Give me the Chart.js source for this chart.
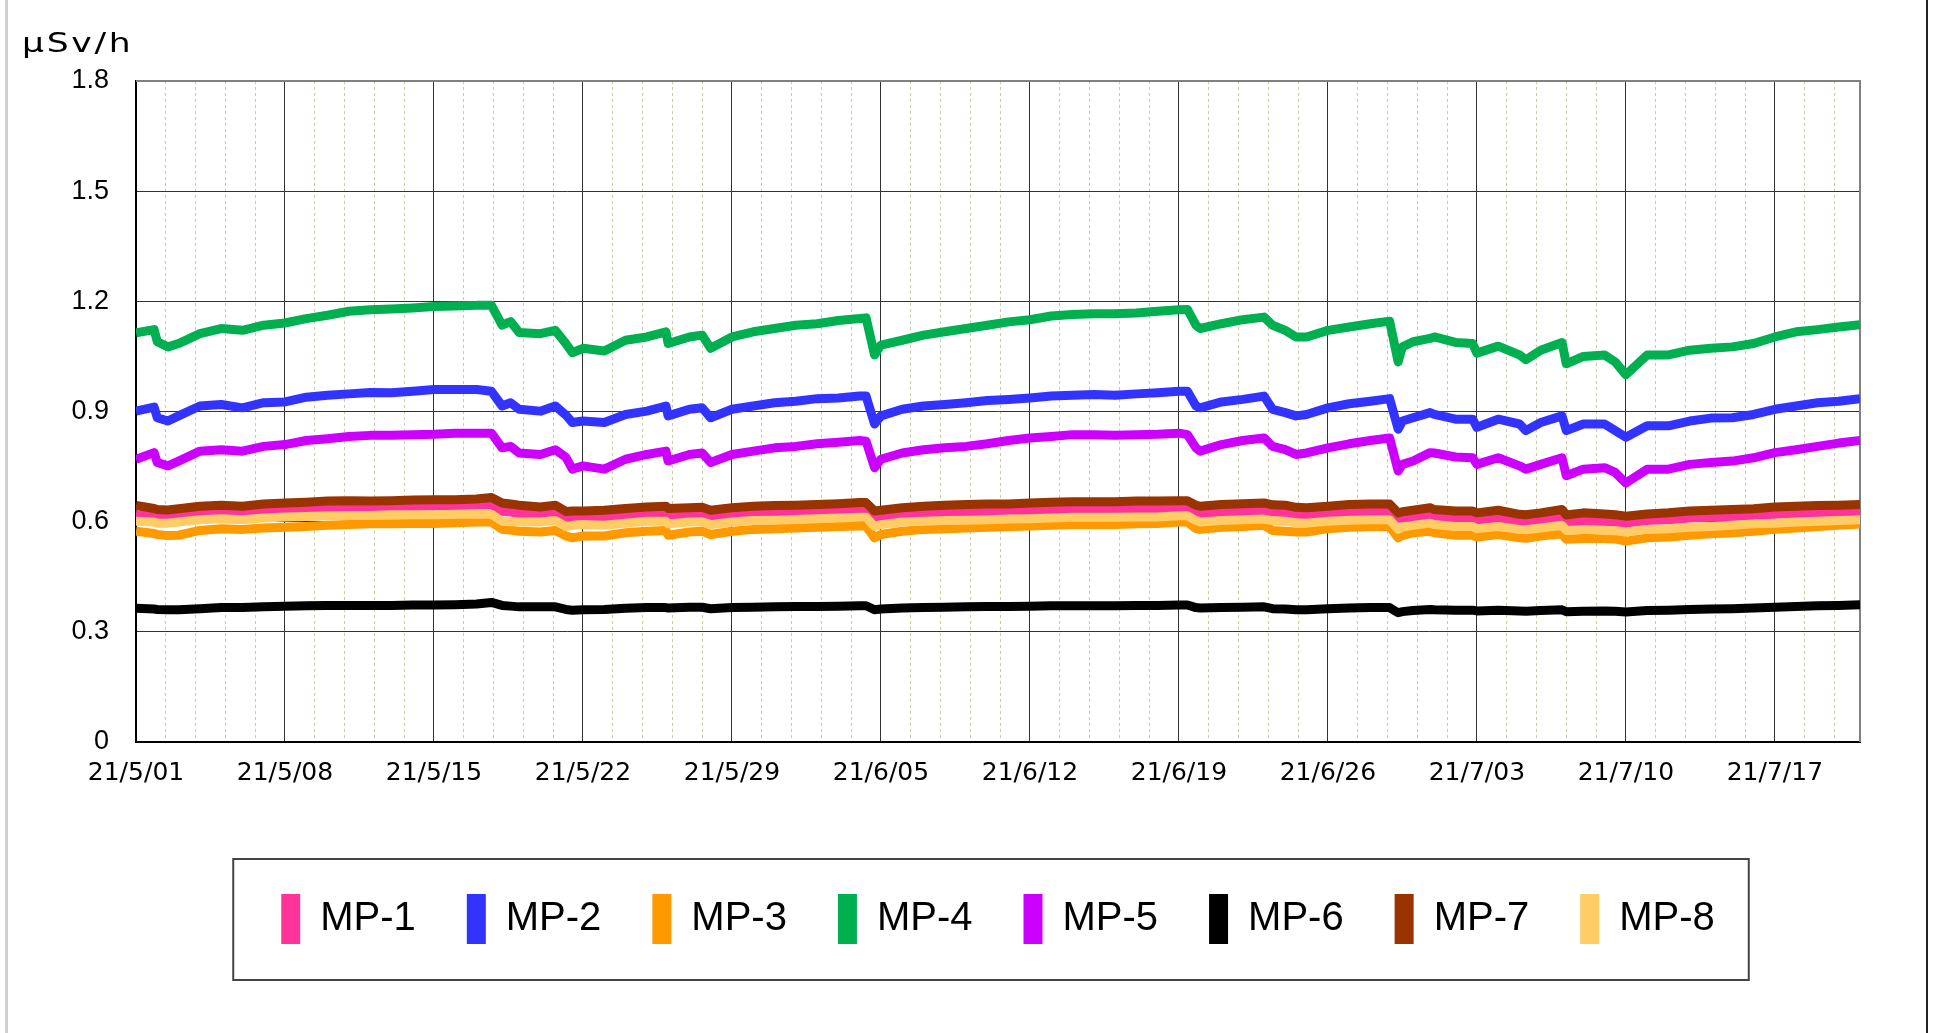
<!DOCTYPE html>
<html>
<head>
<meta charset="utf-8">
<script src="https://cdn.jsdelivr.net/npm/chart.js@4.4.1/dist/chart.umd.min.js"></script>
<style>
html,body{margin:0;padding:0;background:#fff;}
#wrap{position:relative;width:1933px;height:1033px;overflow:hidden;}
canvas{position:absolute;left:0;top:0;}
#unit{position:absolute;left:22px;top:30px;font-family:"DejaVu Sans";font-size:26px;line-height:26px;letter-spacing:2px;color:#000;white-space:nowrap;transform:scaleX(1.33);transform-origin:0 0;}
#frame{position:absolute;left:5px;top:-2px;width:1923px;height:1037px;box-sizing:border-box;border-left:3px solid #cfcfcf;border-right:2px solid #222;pointer-events:none;}
</style>
</head>
<body>
<div id="wrap">
<canvas id="c" width="1933" height="1033"></canvas>
<div id="unit">μSv/h</div>
<div id="frame"></div>
</div>
<script>
// days since 2021-05-01
const dayOffsets = [
 0, 0.85, 1, 1.5, 2,
 3, 4, 5, 6, 7, 8, 9, 10, 11, 12, 13, 14, 15, 16,
 16.7, 17.2, 17.6, 18,
 19, 19.7, 20.2, 20.5, 21, 22, 23, 24,
 24.9, 25, 26, 26.6, 27,
 28, 29, 30, 31, 32, 33, 34,
 34.3, 34.7,
 35, 36, 37, 38, 39, 40, 41, 42, 43, 44, 45, 46, 47, 48, 49,
 49.4, 49.8, 50, 51, 52, 53,
 53.4, 54, 54.5, 55, 56, 57, 58,
 58.9, 59.3, 59.5, 60, 60.8, 61, 62,
 62.8, 63, 64, 65, 65.3, 66, 67,
 67.2, 68, 69, 69.5, 70,
 71, 72, 73, 74, 75, 76, 77, 78, 79, 80, 81
];

const weekLabels = ["21/5/01","21/5/08","21/5/15","21/5/22","21/5/29","21/6/05","21/6/12","21/6/19","21/6/26","21/7/03","21/7/10","21/7/17"];
const yTickLabels = ["0","0.3","0.6","0.9","1.2","1.5","1.8"];
const seriesNames = ["MP-1","MP-2","MP-3","MP-4","MP-5","MP-6","MP-7","MP-8"];
const seriesColors = ["#ff3399","#3333ff","#ff9900","#00b050","#cc00ff","#000000","#993300","#ffcc66"];

const mp1 = [
 0.619, 0.618, 0.614, 0.615, 0.619,
 0.625, 0.628, 0.625, 0.630, 0.632, 0.634, 0.637, 0.639, 0.639, 0.640, 0.641, 0.643, 0.644, 0.646,
 0.647, 0.628, 0.626, 0.623,
 0.623, 0.626, 0.610, 0.610, 0.610, 0.612, 0.617, 0.619,
 0.620, 0.614, 0.619, 0.620, 0.614,
 0.619, 0.622, 0.623, 0.625, 0.628, 0.630, 0.631,
 0.631, 0.610,
 0.612, 0.619, 0.622, 0.623, 0.625, 0.626, 0.628, 0.630, 0.631, 0.632, 0.633, 0.633, 0.635, 0.636, 0.637,
 0.637, 0.623, 0.620, 0.625, 0.628, 0.630,
 0.626, 0.623, 0.620, 0.619, 0.623, 0.626, 0.628,
 0.628, 0.609, 0.610, 0.612, 0.616, 0.614, 0.610,
 0.610, 0.605, 0.610, 0.601, 0.600, 0.605, 0.612,
 0.599, 0.601, 0.601, 0.599, 0.596,
 0.603, 0.605, 0.610, 0.612, 0.614, 0.617, 0.620, 0.623, 0.625, 0.626, 0.628
];
const mp2 = [
 0.901, 0.912, 0.883, 0.874, 0.888,
 0.915, 0.919, 0.910, 0.924, 0.926, 0.939, 0.944, 0.948, 0.952, 0.951, 0.955, 0.960, 0.960, 0.960,
 0.955, 0.915, 0.924, 0.906,
 0.901, 0.915, 0.890, 0.870, 0.874, 0.870, 0.892, 0.901,
 0.915, 0.888, 0.906, 0.910, 0.883,
 0.906, 0.915, 0.924, 0.928, 0.935, 0.937, 0.942,
 0.942, 0.866,
 0.888, 0.906, 0.915, 0.919, 0.924, 0.930, 0.933, 0.937, 0.942, 0.944, 0.946, 0.944, 0.948, 0.951, 0.955,
 0.955, 0.915, 0.910, 0.926, 0.933, 0.942,
 0.906, 0.897, 0.888, 0.892, 0.910, 0.921, 0.928,
 0.935, 0.852, 0.874, 0.883, 0.897, 0.892, 0.879,
 0.879, 0.857, 0.879, 0.866, 0.848, 0.870, 0.888,
 0.848, 0.866, 0.866, 0.848, 0.830,
 0.861, 0.861, 0.874, 0.882, 0.883, 0.892, 0.906, 0.915, 0.924, 0.928, 0.935
];
const mp3 = [
 0.574, 0.568, 0.565, 0.562, 0.563,
 0.576, 0.581, 0.579, 0.583, 0.585, 0.587, 0.590, 0.592, 0.594, 0.594, 0.595, 0.595, 0.597, 0.599,
 0.599, 0.579, 0.577, 0.574,
 0.572, 0.576, 0.561, 0.556, 0.561, 0.561, 0.570, 0.574,
 0.576, 0.563, 0.572, 0.574, 0.565,
 0.574, 0.579, 0.581, 0.583, 0.585, 0.587, 0.588,
 0.588, 0.556,
 0.565, 0.574, 0.579, 0.581, 0.583, 0.585, 0.587, 0.588, 0.590, 0.592, 0.592, 0.592, 0.594, 0.595, 0.599,
 0.599, 0.581, 0.579, 0.585, 0.587, 0.590,
 0.576, 0.574, 0.572, 0.572, 0.581, 0.585, 0.587,
 0.587, 0.556, 0.562, 0.570, 0.574, 0.570, 0.563,
 0.563, 0.558, 0.565, 0.556, 0.555, 0.561, 0.567,
 0.552, 0.554, 0.554, 0.553, 0.547,
 0.556, 0.558, 0.563, 0.567, 0.570, 0.574, 0.579, 0.583, 0.587, 0.590, 0.594
];
const mp4 = [
 1.114, 1.123, 1.090, 1.076, 1.085,
 1.112, 1.126, 1.121, 1.135, 1.141, 1.153, 1.162, 1.173, 1.177, 1.179, 1.182, 1.186, 1.187, 1.189,
 1.189, 1.135, 1.145, 1.115,
 1.112, 1.121, 1.085, 1.060, 1.072, 1.065, 1.094, 1.103,
 1.117, 1.085, 1.103, 1.108, 1.072,
 1.103, 1.117, 1.126, 1.135, 1.139, 1.148, 1.153,
 1.155, 1.054,
 1.081, 1.094, 1.108, 1.117, 1.126, 1.135, 1.144, 1.150, 1.160, 1.164, 1.166, 1.166, 1.168, 1.173, 1.177,
 1.178, 1.135, 1.126, 1.139, 1.150, 1.157,
 1.135, 1.121, 1.103, 1.103, 1.121, 1.130, 1.139,
 1.146, 1.035, 1.076, 1.090, 1.099, 1.103, 1.088,
 1.085, 1.059, 1.078, 1.054, 1.041, 1.067, 1.088,
 1.030, 1.050, 1.054, 1.035, 1.000,
 1.054, 1.054, 1.067, 1.072, 1.076, 1.085, 1.103, 1.117, 1.123, 1.130, 1.136
];
const mp5 = [
 0.770, 0.788, 0.761, 0.752, 0.765,
 0.792, 0.796, 0.792, 0.805, 0.810, 0.821, 0.826, 0.832, 0.835, 0.835, 0.837, 0.838, 0.841, 0.841,
 0.841, 0.801, 0.805, 0.787,
 0.783, 0.796, 0.775, 0.743, 0.752, 0.743, 0.770, 0.783,
 0.792, 0.765, 0.783, 0.787, 0.761,
 0.783, 0.792, 0.801, 0.805, 0.812, 0.816, 0.821,
 0.819, 0.747,
 0.770, 0.787, 0.796, 0.801, 0.805, 0.812, 0.821, 0.828, 0.832, 0.837, 0.837, 0.835, 0.837, 0.838, 0.841,
 0.837, 0.801, 0.792, 0.810, 0.821, 0.828,
 0.805, 0.796, 0.783, 0.787, 0.801, 0.812, 0.821,
 0.828, 0.738, 0.756, 0.765, 0.788, 0.787, 0.776,
 0.774, 0.756, 0.774, 0.752, 0.743, 0.756, 0.774,
 0.725, 0.743, 0.747, 0.734, 0.705,
 0.743, 0.743, 0.756, 0.761, 0.765, 0.774, 0.788, 0.796, 0.805, 0.814, 0.821
];
const mp6 = [
 0.364, 0.362, 0.361, 0.360, 0.360,
 0.363, 0.366, 0.366, 0.368, 0.370, 0.371, 0.372, 0.372, 0.372, 0.372, 0.373, 0.373, 0.374, 0.376,
 0.380, 0.372, 0.370, 0.368,
 0.368, 0.368, 0.361, 0.359, 0.360, 0.361, 0.364, 0.366,
 0.366, 0.365, 0.367, 0.367, 0.363,
 0.366, 0.367, 0.368, 0.369, 0.369, 0.370, 0.371,
 0.371, 0.360,
 0.362, 0.365, 0.366, 0.367, 0.368, 0.369, 0.369, 0.370, 0.371, 0.371, 0.371, 0.371, 0.372, 0.372, 0.373,
 0.373, 0.366, 0.365, 0.366, 0.367, 0.368,
 0.363, 0.362, 0.360, 0.360, 0.363, 0.365, 0.366,
 0.366, 0.352, 0.355, 0.358, 0.361, 0.360, 0.359,
 0.359, 0.357, 0.359, 0.357, 0.356, 0.358, 0.360,
 0.355, 0.356, 0.357, 0.356, 0.354,
 0.358, 0.359, 0.361, 0.362, 0.363, 0.365, 0.367, 0.369, 0.371, 0.372, 0.374
];
const mp7 = [
 0.644, 0.636, 0.633, 0.632, 0.635,
 0.642, 0.645, 0.642, 0.648, 0.651, 0.653, 0.656, 0.657, 0.656, 0.657, 0.659, 0.660, 0.660, 0.662,
 0.666, 0.651, 0.648, 0.645,
 0.640, 0.645, 0.628, 0.629, 0.629, 0.631, 0.636, 0.640,
 0.642, 0.636, 0.638, 0.639, 0.631,
 0.638, 0.642, 0.644, 0.645, 0.647, 0.649, 0.652,
 0.652, 0.629,
 0.631, 0.638, 0.642, 0.645, 0.647, 0.648, 0.648, 0.651, 0.653, 0.654, 0.654, 0.654, 0.656, 0.656, 0.657,
 0.657, 0.645, 0.642, 0.647, 0.649, 0.651,
 0.646, 0.645, 0.639, 0.638, 0.642, 0.647, 0.648,
 0.648, 0.624, 0.627, 0.631, 0.638, 0.633, 0.629,
 0.629, 0.624, 0.631, 0.620, 0.619, 0.624, 0.633,
 0.618, 0.624, 0.621, 0.619, 0.615,
 0.621, 0.624, 0.629, 0.631, 0.633, 0.635, 0.640, 0.642, 0.644, 0.645, 0.647
];
const mp8 = [
 0.601, 0.599, 0.596, 0.596, 0.599,
 0.605, 0.608, 0.605, 0.610, 0.613, 0.614, 0.616, 0.617, 0.617, 0.619, 0.619, 0.619, 0.620, 0.620,
 0.620, 0.601, 0.600, 0.599,
 0.599, 0.603, 0.587, 0.590, 0.592, 0.590, 0.596, 0.601,
 0.601, 0.594, 0.599, 0.600, 0.592,
 0.599, 0.603, 0.604, 0.606, 0.608, 0.610, 0.612,
 0.612, 0.587,
 0.592, 0.599, 0.601, 0.603, 0.604, 0.605, 0.607, 0.608, 0.610, 0.612, 0.612, 0.612, 0.613, 0.613, 0.616,
 0.616, 0.603, 0.599, 0.603, 0.605, 0.607,
 0.603, 0.601, 0.597, 0.596, 0.601, 0.604, 0.605,
 0.605, 0.579, 0.585, 0.590, 0.596, 0.592, 0.587,
 0.587, 0.581, 0.587, 0.579, 0.578, 0.583, 0.590,
 0.576, 0.579, 0.576, 0.575, 0.572,
 0.579, 0.581, 0.585, 0.587, 0.590, 0.594, 0.596, 0.599, 0.601, 0.603, 0.605
];

const seriesValues = [mp1, mp2, mp3, mp4, mp5, mp6, mp7, mp8];

const datasets = seriesNames.map((name, i) => ({
  label: name,
  data: dayOffsets.map((d, k) => ({x: d, y: seriesValues[i][k]})),
  borderColor: seriesColors[i],
  backgroundColor: seriesColors[i],
  borderWidth: 9,
  borderJoinStyle: 'round',
  pointRadius: 0,
  pointHoverRadius: 0,
  tension: 0,
  fill: false,
  order: seriesNames.length - i
}));

const framePlugin = {
  id: 'frames',
  beforeDatasetsDraw(chart) {
    const {ctx, chartArea: a} = chart;
    ctx.save();
    ctx.strokeStyle = '#808080';
    ctx.lineWidth = 2;
    ctx.beginPath();
    ctx.moveTo(a.left, a.top);
    ctx.lineTo(a.right, a.top);
    ctx.lineTo(a.right, a.bottom);
    ctx.stroke();
    ctx.restore();
  },
  afterDraw(chart) {
    const lg = chart.legend;
    if (!lg || !lg.legendHitBoxes || !lg.legendHitBoxes.length) return;
    const hb = lg.legendHitBoxes;
    const l = Math.min(...hb.map(h => h.left)) - 48;
    const r = Math.max(...hb.map(h => h.left + h.width)) + 34;
    const t = Math.min(...hb.map(h => h.top)) - 35;
    const b = Math.max(...hb.map(h => h.top + h.height)) + 36;
    const ctx = chart.ctx;
    ctx.save();
    ctx.strokeStyle = '#444';
    ctx.lineWidth = 2;
    ctx.strokeRect(l, t, r - l, b - t);
    ctx.restore();
  }
};

new Chart(document.getElementById('c'), {
  type: 'line',
  data: {datasets},
  plugins: [framePlugin],
  options: {
    responsive: false,
    animation: false,
    events: [],
    layout: {padding: {left: 0, right: 73, top: 81, bottom: 79}},
    scales: {
      x: {
        type: 'linear', position: 'bottom', min: 0, max: 81, bounds: 'data',
        afterBuildTicks: s => { s.ticks = s.ticks.filter(t => t.value % 7 === 0 && t.value <= 77); },
        ticks: {stepSize: 7, autoSkip: false, maxRotation: 0, minRotation: 0, padding: 16, includeBounds: false,
          font: {family: 'DejaVu Sans', size: 25}, color: '#000',
          callback: v => weekLabels[Math.round(v / 7)]},
        grid: {color: '#333', lineWidth: 1, drawTicks: false},
        border: {color: '#000', width: 2},
        afterFit: s => { s.height = 101; }
      },
      xMinor: {
        type: 'linear', position: 'top', min: 0, max: 81, bounds: 'data',
        afterBuildTicks: s => { s.ticks = s.ticks.filter(t => Math.abs(t.value / 7 - Math.round(t.value / 7)) > 1e-6 && t.value < 80.9); },
        ticks: {display: false, stepSize: 1.4, autoSkip: false, includeBounds: false},
        grid: {color: '#cfcaa0', lineWidth: 1, drawTicks: false, z: -1},
        border: {display: false, dash: [3, 3]},
        afterFit: s => { s.height = 0; }
      },
      y: {
        min: 0, max: 1.8, bounds: 'data',
        ticks: {stepSize: 0.3, padding: 27, font: {family: 'Liberation Sans', size: 27}, color: '#000',
          callback: v => yTickLabels[Math.round(v / 0.3)]},
        grid: {color: '#333', lineWidth: 1, drawTicks: false},
        border: {color: '#000', width: 2},
        afterFit: s => { s.width = 136; }
      }
    },
    plugins: {
      title: {display: false},
      tooltip: {enabled: false},
      legend: {
        position: 'bottom', fullSize: false,
        labels: {
          boxWidth: 19, boxHeight: 50, padding: 51,
          font: {family: 'Liberation Sans', size: 40}, color: '#000',
          generateLabels: chart => Chart.defaults.plugins.legend.labels.generateLabels(chart)
            .map(l => Object.assign({}, l, {lineWidth: 0, fillStyle: l.strokeStyle})),
          sort: (a, b) => a.datasetIndex - b.datasetIndex
        }
      }
    }
  }
});
</script>
</body>
</html>
